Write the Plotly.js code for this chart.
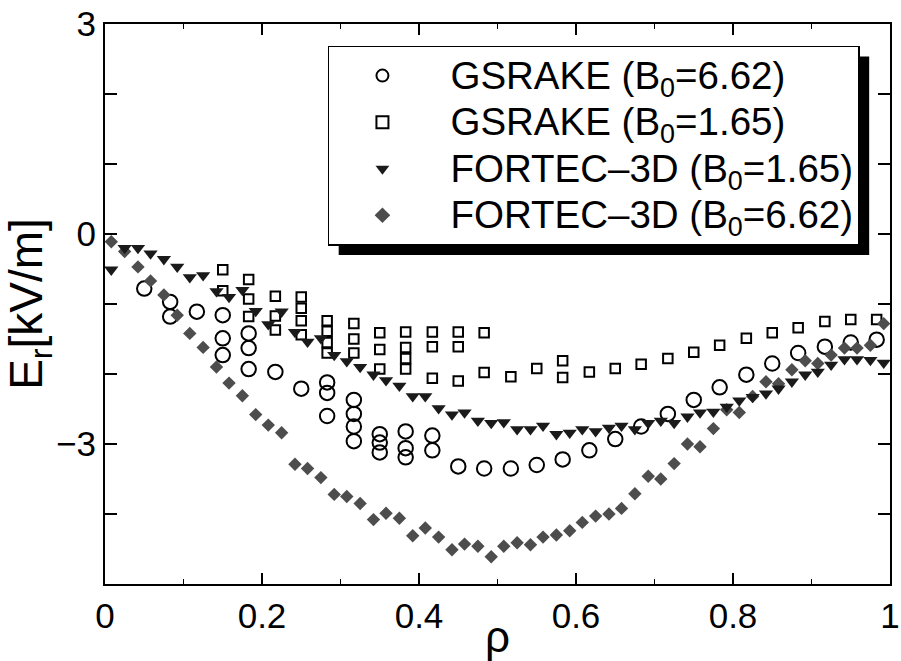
<!DOCTYPE html>
<html>
<head>
<meta charset="utf-8">
<script src="https://cdn.plot.ly/plotly-3.0.1.min.js"></script>
<style>
html,body{margin:0;padding:0;background:#fff;}
#chart{width:901px;height:661px;}
</style>
</head>
<body>
<div id="chart"></div>
<script>
// ---- data ----
const rhoFortec = [0.008,0.025,0.042,0.058,0.075,0.092,0.108,0.125,0.142,0.158,0.175,0.192,0.208,0.225,0.242,0.258,0.275,0.292,0.308,0.325,0.342,0.358,0.375,0.392,0.408,0.425,0.442,0.458,0.475,0.492,0.508,0.525,0.542,0.558,0.575,0.592,0.608,0.625,0.642,0.658,0.675,0.692,0.708,0.725,0.742,0.758,0.775,0.792,0.808,0.825,0.842,0.858,0.875,0.892,0.908,0.925,0.942,0.958,0.975,0.992];
const erFortec165 = [-0.51,-0.20,-0.20,-0.28,-0.36,-0.47,-0.62,-0.59,-0.82,-0.90,-0.80,-1.10,-1.29,-1.11,-1.40,-1.54,-1.49,-1.73,-1.82,-1.90,-2.01,-2.09,-2.17,-2.32,-2.32,-2.49,-2.58,-2.55,-2.67,-2.70,-2.69,-2.79,-2.79,-2.74,-2.86,-2.84,-2.79,-2.82,-2.77,-2.74,-2.79,-2.70,-2.67,-2.70,-2.61,-2.55,-2.54,-2.47,-2.38,-2.33,-2.28,-2.21,-2.11,-2.01,-1.97,-1.87,-1.79,-1.79,-1.80,-1.84];
const erFortec662 = [-0.11,-0.25,-0.47,-0.67,-0.87,-1.16,-1.42,-1.62,-1.90,-2.13,-2.31,-2.58,-2.73,-2.84,-3.29,-3.35,-3.48,-3.72,-3.75,-3.85,-4.08,-3.99,-4.06,-4.31,-4.20,-4.33,-4.51,-4.43,-4.46,-4.61,-4.46,-4.41,-4.44,-4.33,-4.30,-4.24,-4.12,-4.03,-4.00,-3.92,-3.71,-3.46,-3.50,-3.28,-3.00,-3.04,-2.78,-2.51,-2.55,-2.32,-2.11,-2.14,-1.94,-1.81,-1.85,-1.73,-1.63,-1.63,-1.59,-1.28];

const rhoGs662 = [0.05,0.083,0.083,0.117,0.15,0.15,0.15,0.183,0.183,0.183,0.217,0.25,0.283,0.283,0.283,0.317,0.317,0.317,0.317,0.35,0.35,0.35,0.383,0.383,0.383,0.417,0.417,0.45,0.483,0.517,0.55,0.583,0.617,0.65,0.683,0.717,0.75,0.783,0.817,0.85,0.883,0.917,0.95,0.983];
const erGs662 = [-0.78,-0.97,-1.18,-1.11,-1.16,-1.49,-1.73,-1.42,-1.63,-1.93,-1.97,-2.21,-2.12,-2.27,-2.60,-2.37,-2.57,-2.75,-2.96,-2.86,-2.98,-3.12,-2.82,-3.06,-3.19,-2.88,-3.09,-3.32,-3.35,-3.35,-3.30,-3.22,-3.09,-2.93,-2.75,-2.57,-2.37,-2.19,-2.01,-1.85,-1.70,-1.61,-1.55,-1.51];

const rhoGs165 = [0.15,0.15,0.183,0.183,0.183,0.217,0.217,0.217,0.25,0.25,0.25,0.25,0.283,0.283,0.283,0.283,0.317,0.317,0.317,0.35,0.35,0.35,0.383,0.383,0.383,0.383,0.417,0.417,0.417,0.45,0.45,0.45,0.483,0.483,0.517,0.55,0.583,0.583,0.617,0.65,0.683,0.717,0.75,0.783,0.817,0.85,0.883,0.917,0.95,0.983];
const erGs165 = [-0.51,-0.81,-0.65,-0.93,-1.18,-0.89,-1.17,-1.37,-0.90,-1.06,-1.24,-1.44,-1.24,-1.39,-1.55,-1.70,-1.28,-1.50,-1.70,-1.41,-1.65,-1.93,-1.40,-1.62,-1.78,-1.93,-1.40,-1.61,-2.06,-1.40,-1.61,-2.10,-1.41,-1.98,-2.04,-1.92,-1.81,-2.05,-1.97,-1.92,-1.86,-1.78,-1.69,-1.59,-1.49,-1.41,-1.34,-1.25,-1.22,-1.22];

const seriesNames = ['GSRAKE (B<sub>0</sub>=6.62)','GSRAKE (B<sub>0</sub>=1.65)','FORTEC\u20133D (B<sub>0</sub>=1.65)','FORTEC\u20133D (B<sub>0</sub>=6.62)'];
const xTitle = '\u03c1';
const yTitle = 'E<sub>r</sub>[kV/m]';

// ---- plot ----
const FONT = 'Liberation Sans, Arial, Helvetica, sans-serif';
const big = s => '<span style="font-size:38.5px">' + s + '</span>';
const traces = [
  {x: rhoGs165, y: erGs165, name: big(seriesNames[1]), legendrank: 2, mode:'markers', type:'scatter',
   marker:{symbol:'square-open', size:9.5, color:'#000', line:{width:2, color:'#000'}}},
  {x: rhoGs662, y: erGs662, name: big(seriesNames[0]), legendrank: 1, mode:'markers', type:'scatter',
   marker:{symbol:'circle-open', size:14.5, color:'#000', line:{width:2, color:'#000'}}},
  {x: rhoFortec, y: erFortec662, name: big(seriesNames[3]), legendrank: 4, mode:'markers', type:'scatter',
   marker:{symbol:'diamond', size:10.3, color:'#4d4d4d', line:{width:0}}},
  {x: rhoFortec, y: erFortec165, name: big(seriesNames[2]), legendrank: 3, mode:'markers', type:'scatter',
   marker:{symbol:'triangle-down', size:12.4, color:'#1a1a1a', line:{width:0}}}
];

const axisCommon = {
  showgrid:false, zeroline:false, showline:true, linecolor:'#000', linewidth:2,
  mirror:'ticks', ticks:'inside', tickcolor:'#000', tickwidth:1.5,
  tickfont:{family:FONT, size:35, color:'#000'}
};

const layout = {
  width:901, height:661,
  margin:{l:105, r:11, t:24, b:77, pad:0},
  paper_bgcolor:'#fff', plot_bgcolor:'#fff',
  font:{family:FONT, color:'#000'},
  showlegend:true,
  legend:{x:0.284, y:0.961, xanchor:'left', yanchor:'top',
    bgcolor:'#fff', bordercolor:'#000', borderwidth:1.5,
    font:{family:FONT, size:33.5, color:'#000'},
    itemsizing:'constant', itemwidth:126, indentation:-15, tracegroupgap:0},
  xaxis: Object.assign({}, axisCommon, {
    range:[0,1], tick0:0, dtick:0.2, ticklen:11,
    minor:{dtick:0.1, ticks:'inside', ticklen:5, tickwidth:1.5, tickcolor:'#000', showgrid:false},
    title:{text:xTitle, font:{family:FONT, size:44, color:'#000'}, standoff:0}
  }),
  yaxis: Object.assign({}, axisCommon, {
    range:[-5,3], tick0:0, dtick:3, ticklen:12,
    minor:{dtick:1, ticks:'inside', ticklen:12, tickwidth:1.5, tickcolor:'#000', showgrid:false},
    title:{text:yTitle, font:{family:FONT, size:46, color:'#000'}, standoff:2}
  })
};

Plotly.newPlot('chart', traces, layout, {displayModeBar:false, staticPlot:true}).then(function(gd){
  // drop shadow behind the legend box
  const bg = gd.querySelector('.legend .bg');
  if (!bg) return;
  const r = bg.getBoundingClientRect();
  const c = gd.getBoundingClientRect();
  const fs = gd._fullLayout._size;
  const off = 10;
  const px2x = p => (p - c.left - fs.l) / fs.w;
  const px2y = p => 1 - (p - c.top - fs.t) / fs.h;
  return Plotly.relayout(gd, {shapes:[{
    type:'rect', xref:'paper', yref:'paper', layer:'above',
    x0:px2x(r.left+off), x1:px2x(r.right+off), y0:px2y(r.bottom+off), y1:px2y(r.top+off),
    fillcolor:'#000', line:{width:0}
  }]});
});
</script>
</body>
</html>
